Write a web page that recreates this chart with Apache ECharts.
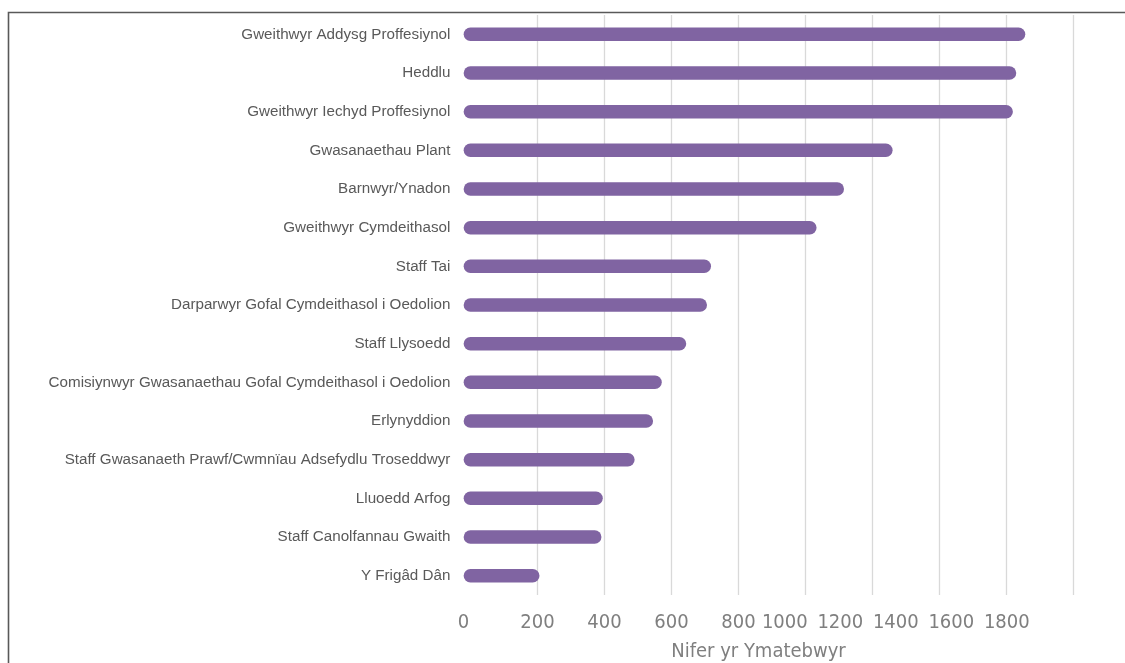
<!DOCTYPE html>
<html>
<head>
<meta charset="utf-8">
<script src="https://cdn.jsdelivr.net/npm/echarts@6/dist/echarts.min.js"></script>
<style>
html,body{margin:0;padding:0;background:#fff;}
#c{width:1125px;height:663px;}
</style>
</head>
<body>
<div id="c"></div>
<script>
const categories = [
  "Gweithwyr Addysg Proffesiynol",
  "Heddlu",
  "Gweithwyr Iechyd Proffesiynol",
  "Gwasanaethau Plant",
  "Barnwyr/Ynadon",
  "Gweithwyr Cymdeithasol",
  "Staff Tai",
  "Darparwyr Gofal Cymdeithasol i Oedolion",
  "Staff Llysoedd",
  "Comisiynwyr Gwasanaethau Gofal Cymdeithasol i Oedolion",
  "Erlynyddion",
  "Staff Gwasanaeth Prawf/Cwmnïau Adsefydlu Troseddwyr",
  "Lluoedd Arfog",
  "Staff Canolfannau Gwaith",
  "Y Frigâd Dân"
];
const values = [1636, 1609, 1599, 1240, 1095, 1013, 698, 686, 624, 551, 525, 470, 375, 371, 186];
const ticksLow = [0, 200, 400, 600, 800];
const ticksHigh = [1000, 1200, 1400, 1600, 1800];
const axisName = "Nifer yr Ymatebwyr";

const chart = echarts.init(document.getElementById('c'), null, {renderer: 'canvas'});
const narrow = "'DejaVu Sans Condensed', 'Liberation Sans Narrow', sans-serif";
const tickStyle = {color: '#7f7f7f', fontFamily: narrow, fontSize: 20};

chart.setOption({
  animation: false,
  graphic: [{
    type: 'rect', z: -10, silent: true,
    shape: {x: 8.5, y: 12.5, width: 1300, height: 800},
    style: {fill: 'none', stroke: '#595959', lineWidth: 1.6}
  }],
  grid: {left: 470.4, top: 15, width: 670.1, height: 580, containLabel: false, outerBoundsMode: 'none'},
  xAxis: [{
    type: 'value', min: 0, max: 2000, interval: 200,
    axisLine: {show: false}, axisTick: {show: false},
    splitLine: {show: true, showMinLine: false, lineStyle: {color: '#d9d9d9', width: 1.3}},
    axisLabel: {
      customValues: ticksLow, margin: 18,
      formatter: v => v === 0 ? '{z|0}' : String(v),
      ...tickStyle,
      rich: {z: {...tickStyle, padding: [0, 14, 0, 0]}}
    },
    name: axisName, nameLocation: 'middle', nameGap: 47,
    nameTextStyle: {color: '#7f7f7f', fontFamily: narrow, fontSize: 20, padding: [0, 94, 0, 0]}
  }, {
    type: 'value', position: 'bottom', min: -133, max: 2281.8,
    axisLine: {show: false}, axisTick: {show: false}, splitLine: {show: false},
    axisLabel: {customValues: ticksHigh, margin: 18, formatter: v => String(v), ...tickStyle}
  }],
  yAxis: {
    type: 'category', data: categories, inverse: true,
    axisLine: {show: false}, axisTick: {show: false},
    axisLabel: {color: '#595959', fontFamily: "'Liberation Sans', Arial, sans-serif", fontSize: 15.2, margin: 20}
  },
  series: [{
    type: 'custom',
    xAxisIndex: 0,
    data: values.map((v, i) => [v, i]),
    encode: {x: 0, y: 1},
    renderItem: function (params, api) {
      const a = api.coord([0, api.value(1)]);
      const b = api.coord([api.value(0), api.value(1)]);
      return {
        type: 'line',
        shape: {x1: a[0], y1: a[1], x2: b[0], y2: b[1]},
        style: {stroke: '#8064a2', lineWidth: 13.5, lineCap: 'round'}
      };
    }
  }]
});
</script>
</body>
</html>
